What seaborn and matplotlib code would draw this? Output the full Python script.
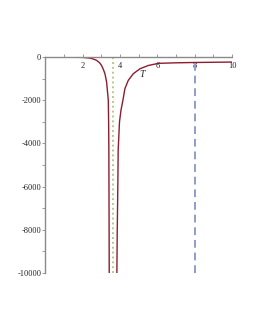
import matplotlib
matplotlib.use("Agg")
import matplotlib.pyplot as plt
import seaborn as sns
import pandas as pd

sns.set_style("white")
plt.rcParams['font.family'] = ['Liberation Serif', 'DejaVu Serif']

# Data
left_x = [0.0, 1.0, 1.5, 2.0, 2.39, 2.6, 2.74, 2.9, 3.01, 3.1, 3.19, 3.28, 3.37, 3.39, 3.40, 3.41, 3.42]
left_y = [0, -2, -5, -15, -45, -100, -150, -260, -390, -560, -770, -1160, -2000, -3200, -4300, -7000, -10000]
right_x = [3.83, 3.85, 3.88, 3.90, 3.97, 4.05, 4.17, 4.26, 4.44, 4.71, 5.07, 5.51, 6.05, 7.0, 8.0, 9.0, 10.0]
right_y = [-10000, -8000, -6000, -4300, -3000, -2460, -1920, -1460, -1080, -770, -540, -390, -290, -265, -250, -240, -230]
pole_x = 3.6
marker_x = 8
x_ticks = [2, 4, 6, 8, 10]
y_ticks = [0, -2000, -4000, -6000, -8000, -10000]

left = pd.DataFrame({"x": left_x, "y": left_y})
right = pd.DataFrame({"x": right_x, "y": right_y})

fig = plt.figure(figsize=(2.55, 3.3), dpi=100)
ax = fig.add_axes([0.178, 0.173, 0.732, 0.654])

curve_color = "#8c1d2e"
sns.lineplot(data=left, x="x", y="y", ax=ax, color=curve_color, lw=1.0, sort=False)
sns.lineplot(data=right, x="x", y="y", ax=ax, color=curve_color, lw=1.0, sort=False)

ax.axvline(pole_x, color="#b7c98f", lw=1.4, ls=(0, (1, 1.5)))
ax.axvline(marker_x, color="#8f9dcc", lw=1.4, ls=(0, (4, 2.5)))

ax.set_xlim(0, 10)
ax.set_ylim(-10000, 0)

for s in ["right", "bottom"]:
    ax.spines[s].set_visible(False)
for s in ["left", "top"]:
    ax.spines[s].set_color("#8a8a8a")
    ax.spines[s].set_linewidth(1.0)

ax.set_xticks(x_ticks)
ax.set_xticks(range(1, 11), minor=True)
ax.set_xticklabels([str(t) for t in x_ticks])
ax.set_yticks(y_ticks)
ax.set_yticks(range(-10000, 1, 1000), minor=True)
ax.set_yticklabels(["0", "-2000", "-4000", "-6000", "-8000", "-10000"])

ax.tick_params(axis="x", which="both", top=True, bottom=False, labeltop=True,
               labelbottom=False, direction="out", length=2, width=0.6,
               color="#8a8a8a", pad=-11, labelsize=6)
ax.tick_params(axis="y", which="both", left=True, direction="out", length=2,
               width=0.6, color="#8a8a8a", pad=1, labelsize=6)

ax.set_xlabel("")
ax.set_ylabel("")
ax.text(5.2, -800, "T", fontsize=7, style="italic", ha="center", va="center")

fig.savefig("out.png", dpi=100)
